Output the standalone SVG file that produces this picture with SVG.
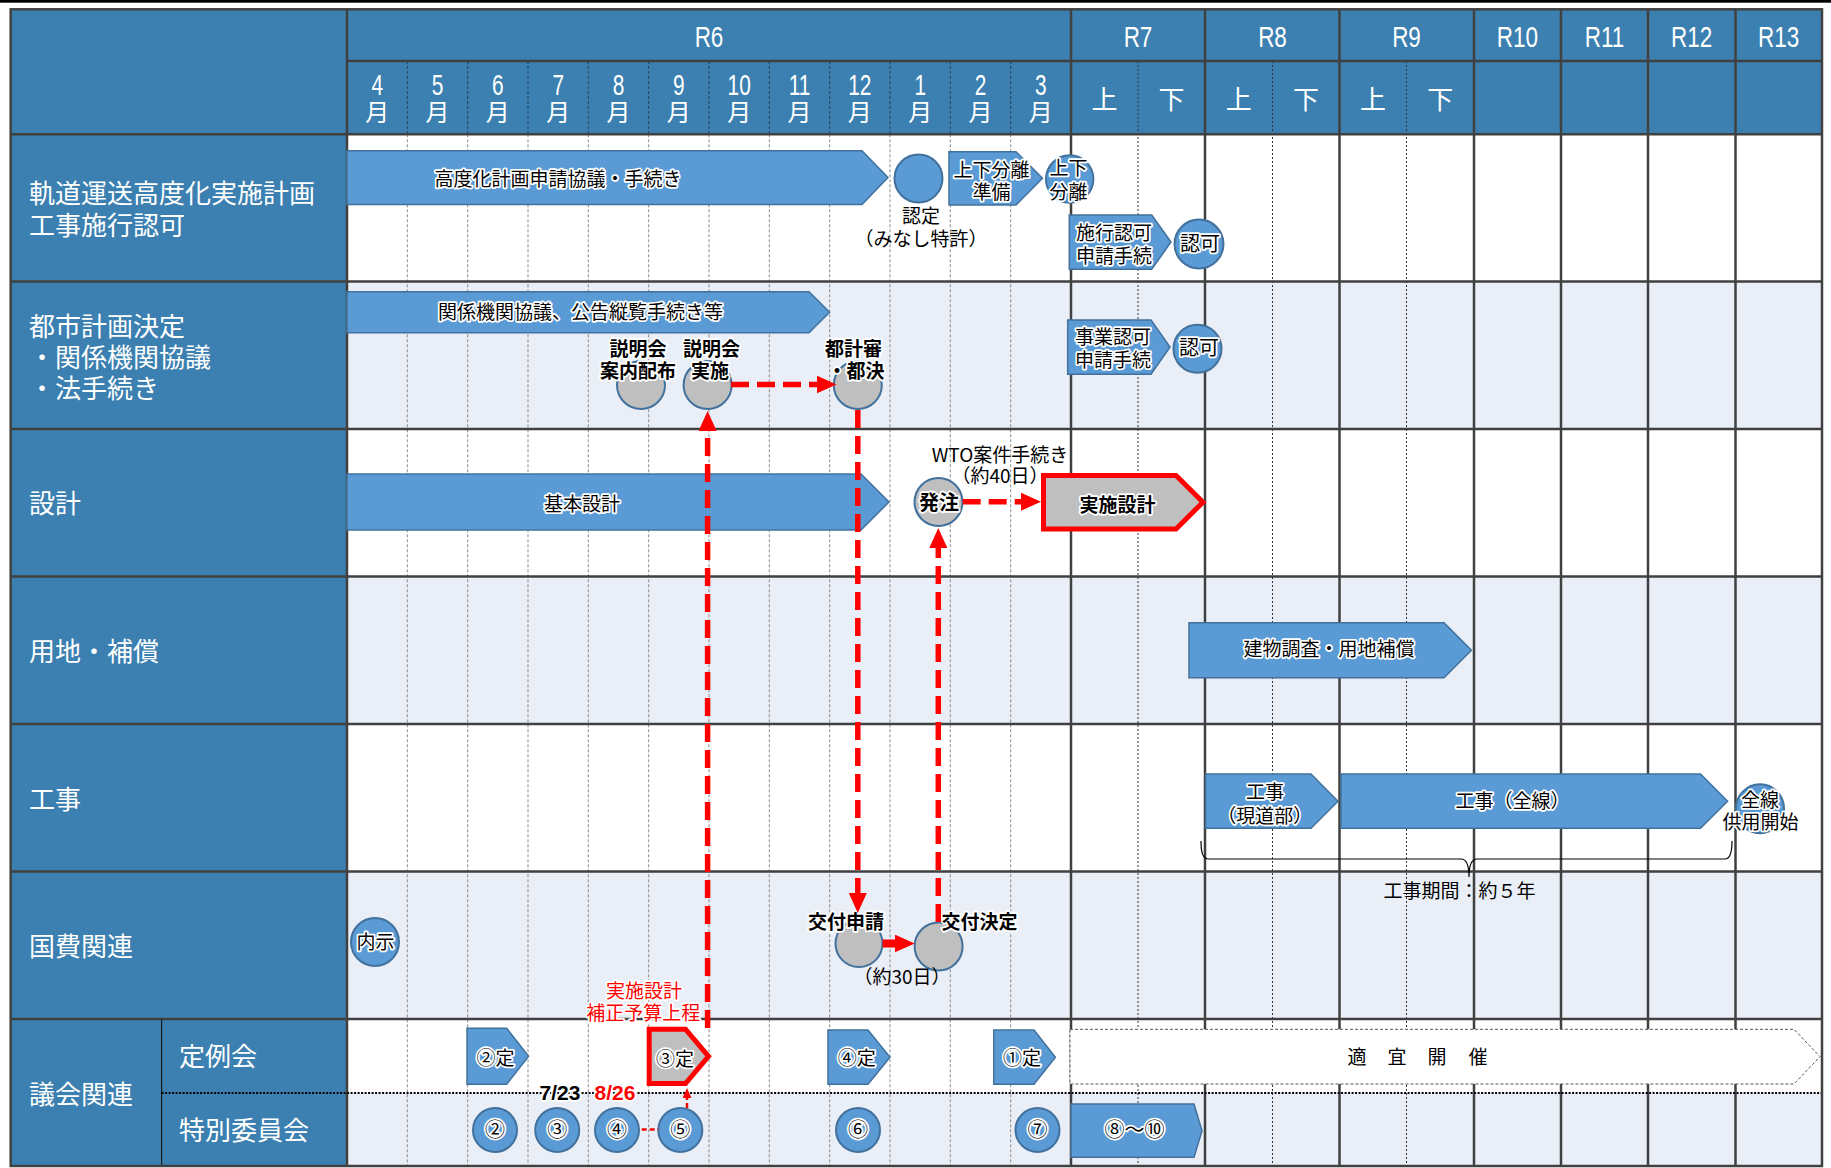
<svg xmlns="http://www.w3.org/2000/svg" width="1831" height="1168" viewBox="0 0 1831 1168">
<defs>
<style>
.lbl{font-family:"Noto Sans CJK JP","Noto Sans",sans-serif;font-size:26px;fill:#fff;dominant-baseline:central}
.hd{font-family:"Liberation Sans",Arial,sans-serif;font-size:30px;fill:#fff;text-anchor:middle}
.hm{font-family:"Liberation Sans",Arial,sans-serif;font-size:29px;fill:#fff;text-anchor:middle}
.hj{font-family:"Noto Sans CJK JP",sans-serif;font-size:24px;fill:#fff;text-anchor:middle;dominant-baseline:central}
.hs{font-family:"Noto Sans CJK JP",sans-serif;font-size:26px;fill:#fff;text-anchor:middle;dominant-baseline:central}
.t{font-family:"Noto Sans CJK JP",sans-serif;font-size:19px;fill:#000;text-anchor:middle;dominant-baseline:central}
.n{font-size:20px}
.h{stroke:#fff;stroke-width:3.5px;stroke-linejoin:round;paint-order:stroke fill}
.b{font-weight:bold}
.rt{fill:#FF0000}
.dt{font-family:"Liberation Sans",Arial,sans-serif;font-size:21px;font-weight:bold;text-anchor:middle}
.bar{fill:#5B9BD5;stroke:#41719C;stroke-width:1.5}
.gc{fill:#BFBFBF;stroke:#41719C;stroke-width:2}
.bc{fill:#5B9BD5;stroke:#41719C;stroke-width:2}
.redp{fill:#BFBFBF;stroke:#FF0000;stroke-width:5}
.gm{stroke:#8a8a8a;stroke-width:1;stroke-dasharray:3 2;fill:none}
.hmline{stroke:#23415c;stroke-width:1;stroke-dasharray:3 2;fill:none}
.half{stroke:#333;stroke-width:1;stroke-dasharray:2 2;fill:none}
.yr{stroke:#404040;stroke-width:2.5;fill:none}
.rd{stroke:#FF0000;stroke-width:5.5;stroke-dasharray:18 8;fill:none}
.rdt{stroke:#FF0000;stroke-width:2.5;stroke-dasharray:5 3;fill:none}
</style>
<marker id="ah" markerUnits="userSpaceOnUse" markerWidth="20" markerHeight="18" refX="1" refY="9" orient="auto"><path d="M0,0 L20,9 L0,18 Z" fill="#FF0000"/></marker>
<marker id="ahs" markerUnits="userSpaceOnUse" markerWidth="10" markerHeight="9" refX="1" refY="4.5" orient="auto"><path d="M0,0 L10,4.5 L0,9 Z" fill="#FF0000"/></marker>
</defs>

<g id="grid">
<rect x="0" y="0" width="1831" height="1168" fill="#fff"/>
<rect x="0" y="0" width="1831" height="2.7" fill="#000"/>
<rect x="347" y="281.6" width="1475" height="147.4" fill="#E9EEF7"/>
<rect x="347" y="576.5" width="1475" height="147.5" fill="#E9EEF7"/>
<rect x="347" y="871.5" width="1475" height="147.5" fill="#E9EEF7"/>
<rect x="347" y="1093" width="1475" height="73" fill="#E9EEF7"/>
<rect x="10.7" y="9.3" width="1811.3" height="125" fill="#3B80B0"/>
<rect x="10.7" y="134.3" width="336.3" height="1031.7" fill="#3B80B0"/>
<path class="gm" d="M407.3,134.3V1166M467.7,134.3V1166M528,134.3V1166M588.3,134.3V1166M648.7,134.3V1166M709,134.3V1166M769.3,134.3V1166M829.7,134.3V1166M890,134.3V1166M950.3,134.3V1166M1010.7,134.3V1166"/>
<path class="hmline" d="M407.3,61V134.3M467.7,61V134.3M528,61V134.3M588.3,61V134.3M648.7,61V134.3M709,61V134.3M769.3,61V134.3M829.7,61V134.3M890,61V134.3M950.3,61V134.3M1010.7,61V134.3"/>
<path class="half" d="M1138,61V1166M1272.5,61V1166M1406.5,61V1166"/>
<path class="yr" d="M347,9.3V1166M1071,9.3V1166M1205,9.3V1166M1339.5,9.3V1166M1474,9.3V1166M1561,9.3V1166M1648,9.3V1166M1735.5,9.3V1166"/>
<path class="yr" d="M347,61H1822M10.7,134.3H1822M10.7,281.6H1822M10.7,429H1822M10.7,576.5H1822M10.7,724H1822M10.7,871.5H1822M10.7,1019H1822"/>
<path d="M161.6,1019V1166" stroke="#1a1a1a" stroke-width="1.2" fill="none"/>
<path d="M161.6,1093H1822" stroke="#000" stroke-width="2" stroke-dasharray="2 1.5" fill="none"/>
<rect x="10.7" y="9.3" width="1811.3" height="1156.7" fill="none" stroke="#404040" stroke-width="2.5"/>
</g>

<g id="header">
<text class="hd" transform="translate(709,46.5) scale(0.75,1)">R6</text>
<text class="hd" transform="translate(1138,46.5) scale(0.75,1)">R7</text>
<text class="hd" transform="translate(1272.5,46.5) scale(0.75,1)">R8</text>
<text class="hd" transform="translate(1406.5,46.5) scale(0.75,1)">R9</text>
<text class="hd" transform="translate(1517.5,46.5) scale(0.75,1)">R10</text>
<text class="hd" transform="translate(1604.5,46.5) scale(0.75,1)">R11</text>
<text class="hd" transform="translate(1691.7,46.5) scale(0.75,1)">R12</text>
<text class="hd" transform="translate(1778.7,46.5) scale(0.75,1)">R13</text>
<text class="hm" transform="translate(377.2,95) scale(0.72,1)">4</text>
<text class="hm" transform="translate(437.5,95) scale(0.72,1)">5</text>
<text class="hm" transform="translate(497.8,95) scale(0.72,1)">6</text>
<text class="hm" transform="translate(558.2,95) scale(0.72,1)">7</text>
<text class="hm" transform="translate(618.5,95) scale(0.72,1)">8</text>
<text class="hm" transform="translate(678.8,95) scale(0.72,1)">9</text>
<text class="hm" transform="translate(739.2,95) scale(0.72,1)">10</text>
<text class="hm" transform="translate(799.5,95) scale(0.72,1)">11</text>
<text class="hm" transform="translate(859.8,95) scale(0.72,1)">12</text>
<text class="hm" transform="translate(920.2,95) scale(0.72,1)">1</text>
<text class="hm" transform="translate(980.5,95) scale(0.72,1)">2</text>
<text class="hm" transform="translate(1040.8,95) scale(0.72,1)">3</text>
<text class="hj" x="377.2" y="110.5">月</text>
<text class="hj" x="437.5" y="110.5">月</text>
<text class="hj" x="497.8" y="110.5">月</text>
<text class="hj" x="558.2" y="110.5">月</text>
<text class="hj" x="618.5" y="110.5">月</text>
<text class="hj" x="678.8" y="110.5">月</text>
<text class="hj" x="739.2" y="110.5">月</text>
<text class="hj" x="799.5" y="110.5">月</text>
<text class="hj" x="859.8" y="110.5">月</text>
<text class="hj" x="920.2" y="110.5">月</text>
<text class="hj" x="980.5" y="110.5">月</text>
<text class="hj" x="1040.8" y="110.5">月</text>
<text class="hs" x="1104.5" y="97">上</text>
<text class="hs" x="1171.5" y="97">下</text>
<text class="hs" x="1238.8" y="97">上</text>
<text class="hs" x="1306" y="97">下</text>
<text class="hs" x="1373" y="97">上</text>
<text class="hs" x="1440.3" y="97">下</text>
</g>

<g id="row-labels">
<text class="lbl" x="29" y="191">軌道運送高度化実施計画</text>
<text class="lbl" x="29" y="223">工事施行認可</text>
<text class="lbl" x="29" y="324">都市計画決定</text>
<text class="lbl" x="29" y="355">・関係機関協議</text>
<text class="lbl" x="29" y="386">・法手続き</text>
<text class="lbl" x="29" y="501">設計</text>
<text class="lbl" x="29" y="649">用地・補償</text>
<text class="lbl" x="29" y="797">工事</text>
<text class="lbl" x="29" y="944">国費関連</text>
<text class="lbl" x="29" y="1092">議会関連</text>
<text class="lbl" x="179" y="1054">定例会</text>
<text class="lbl" x="179" y="1128">特別委員会</text>
</g>

<g id="n-koudoka"><path class="bar" d="M347,150.7H862L888,177.6L862,204.5H347Z"/><text class="t h" x="558" y="177">高度化計画申請協議・手続き</text></g>
<g id="n-nintei"><circle class="bc" cx="918.5" cy="178.5" r="24"/><text class="t" x="921" y="214">認定</text><text class="t" x="921" y="237">（みなし特許）</text></g>
<g id="n-jouge-junbi"><path class="bar" d="M949,151.7H1016L1042.5,178.3L1016,205H949Z"/><text class="t h" x="991.5" y="168">上下分離</text><text class="t h" x="991.5" y="190.5">準備</text></g>
<g id="n-jouge"><circle class="bc" cx="1069.7" cy="179" r="23.7"/><text class="t h" x="1068.5" y="166.5">上下</text><text class="t h" x="1068.5" y="190">分離</text></g>
<g id="n-sekou"><path class="bar" d="M1069.3,215H1151.7L1171,242L1151.7,269.3H1069.3Z"/><text class="t h" x="1114" y="231.3">施行認可</text><text class="t h" x="1114" y="254.7">申請手続</text></g>
<g id="n-ninka1"><circle class="bc" cx="1199" cy="244" r="24.5"/><text class="t h n" x="1200" y="242">認可</text></g>
<g id="n-kankei"><path class="bar" d="M347,291.7H809L829.6,312.2L809,332.7H347Z"/><text class="t h" x="580.6" y="310.7">関係機関協議、公告縦覧手続き等</text></g>
<g id="n-jigyou"><path class="bar" d="M1067.7,320H1151L1170,347L1151,374.3H1067.7Z"/><text class="t h" x="1113" y="335.5">事業認可</text><text class="t h" x="1113" y="358.8">申請手続</text></g>
<g id="n-ninka2"><circle class="bc" cx="1197.5" cy="348.7" r="24"/><text class="t h n" x="1199" y="346.7">認可</text></g>
<g id="n-setsumei1"><circle class="gc" cx="641" cy="385" r="24"/><text class="t h b" x="638" y="347">説明会</text><text class="t h b" x="638" y="369.7">案内配布</text></g>
<g id="n-setsumei2"><circle class="gc" cx="707.6" cy="385" r="24"/><text class="t h b" x="711.5" y="347">説明会</text><text class="t h b" x="710" y="369.7">実施</text></g>
<g id="n-tokeishin"><circle class="gc" cx="857.8" cy="385" r="24"/><text class="t h b" x="853.6" y="347">都計審</text><text class="t h b" x="856" y="369.7">・都決</text></g>
<g id="n-kihon"><path class="bar" d="M347,474H861L889,502L861,530H347Z"/><text class="t h" x="582" y="502">基本設計</text></g>
<g id="n-hacchu"><circle class="gc" cx="938.5" cy="502" r="24"/><text class="t h b n" x="939" y="501.3">発注</text><text class="t" x="1000" y="453">WTO案件手続き</text><text class="t" x="1000" y="474.7">（約40日）</text></g>
<g id="n-jisshi"><path class="redp" d="M1043.5,475.5H1176L1203,502.2L1176,529H1043.5Z"/><text class="t h b" x="1117.5" y="503">実施設計</text></g>
<g id="n-tatemono"><path class="bar" d="M1189,622.7H1444L1471.4,650.2L1444,677.7H1189Z"/><text class="t h" x="1329" y="647">建物調査・用地補償</text></g>
<g id="n-kouji1"><path class="bar" d="M1205.6,774H1311L1338,801.2L1311,828.3H1205.6Z"/><text class="t h" x="1265" y="790.7">工事</text><text class="t h" x="1264.7" y="814">（現道部）</text></g>
<g id="n-kouji2"><path class="bar" d="M1341,774H1700.5L1727.6,801.2L1700.5,828.3H1341Z"/><text class="t h" x="1512.6" y="799.7">工事（全線）</text></g>
<g id="n-kyouyou"><ellipse class="bc" cx="1760" cy="808.7" rx="24" ry="24.5"/><text class="t h" x="1760" y="798">全線</text><text class="t h" x="1760.5" y="820.7">供用開始</text></g>
<g id="n-kikan"><path d="M1201,841C1201,852 1202.5,859 1209,859L1461,859C1466.5,859 1469,866 1469,877C1469,866 1471.5,859 1477,859L1725,859C1730.5,859 1732,852 1732,841" fill="none" stroke="#000" stroke-width="1.2"/><text class="t" x="1459.5" y="889.7">工事期間：約５年</text></g>
<g id="n-naiji"><circle class="bc" cx="375" cy="942" r="24"/><text class="t h" x="375.5" y="940.7">内示</text></g>
<g id="n-koufu-shinsei"><circle class="gc" cx="859" cy="943.5" r="23.5"/><text class="t h b" x="846" y="920">交付申請</text></g>
<g id="n-koufu-kettei"><circle class="gc" cx="938.6" cy="946.5" r="24"/><text class="t h b" x="979.5" y="920">交付決定</text><text class="t" x="902" y="975">（約30日）</text></g>
<g id="n-teirei2"><path class="bar" d="M467,1028.3H506.7L528.6,1056.3L506.7,1084.3H467Z"/><text class="t h" x="495.5" y="1056">②定</text></g>
<g id="n-teirei3"><path class="redp" d="M649.2,1029.2H685.5L708.5,1056.3L685.5,1083.5H649.2Z"/><text class="t h" x="675" y="1057">③定</text><text class="t h rt" x="644" y="989.7">実施設計</text><text class="t h rt" x="643.3" y="1011">補正予算上程</text></g>
<g id="n-teirei4"><path class="bar" d="M828,1030H868L890,1057.2L868,1084.3H828Z"/><text class="t h" x="856.7" y="1056">④定</text></g>
<g id="n-teirei1"><path class="bar" d="M993.8,1030H1034L1055.4,1057.2L1034,1084.3H993.8Z"/><text class="t h" x="1022" y="1056">①定</text></g>
<g id="n-tekigi"><path d="M1070,1029.3H1794L1820,1056.7L1794,1084H1070Z" fill="#fff" stroke="#555" stroke-width="1" stroke-dasharray="3 2"/><text class="t" x="1357 1397 1437 1478" y="1055.3">適宜開催</text></g>
<g id="n-toku2"><circle class="bc" cx="495" cy="1130" r="22"/><text class="t h n" x="495" y="1128">②</text></g>
<g id="n-toku3"><circle class="bc" cx="557.2" cy="1130" r="22"/><text class="t h n" x="557.2" y="1128">③</text><text class="dt h" x="560" y="1100">7/23</text></g>
<g id="n-toku4"><circle class="bc" cx="617" cy="1130" r="22"/><text class="t h n" x="617" y="1128">④</text><text class="dt h rt" x="615" y="1100">8/26</text></g>
<g id="n-toku5"><circle class="bc" cx="680.3" cy="1130" r="22"/><text class="t h n" x="680.3" y="1128">⑤</text></g>
<g id="n-toku6"><circle class="bc" cx="858" cy="1130" r="22"/><text class="t h n" x="858" y="1128">⑥</text></g>
<g id="n-toku7"><circle class="bc" cx="1037.5" cy="1130" r="22"/><text class="t h n" x="1037.5" y="1128">⑦</text></g>
<g id="n-toku8-10"><path class="bar" d="M1071,1104H1194L1202,1130.7L1194,1157.3H1071Z"/><text class="t h n" x="1134.6" y="1128">⑧～⑩</text></g>

<g id="connectors">
<path class="rd" d="M731,384.5H817.5" marker-end="url(#ah)"/>
<path class="rd" d="M707.6,1028V430" marker-end="url(#ah)"/>
<path class="rd" d="M857.8,410V894" marker-end="url(#ah)"/>
<path class="rd" d="M938.3,922V547" marker-end="url(#ah)"/>
<path class="rd" d="M962.7,501.7H1022" marker-end="url(#ah)"/>
<path d="M882.6,943.5H895.7" stroke="#FF0000" stroke-width="8" fill="none" marker-end="url(#ah)"/>
<path class="rdt" d="M687,1108V1097" marker-end="url(#ahs)"/>
<path class="rdt" d="M641.7,1129.5H658.3" stroke-width="3"/>
</g>
</svg>
